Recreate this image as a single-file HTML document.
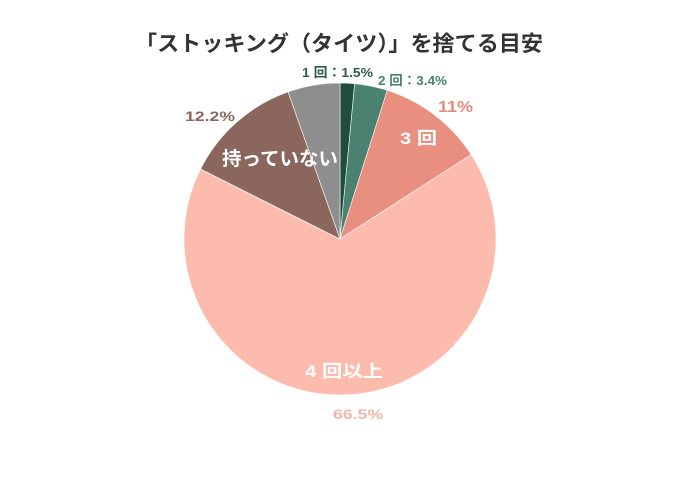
<!DOCTYPE html>
<html>
<head>
<meta charset="utf-8">
<style>
  html, body { margin: 0; padding: 0; background: #ffffff; }
  body { width: 680px; height: 480px; overflow: hidden; }
  svg { display: block; }
  text { font-family: "Liberation Sans", "Noto Sans CJK JP", sans-serif; font-weight: bold; }
</style>
</head>
<body>
<svg width="680" height="480" viewBox="0 0 680 480" xmlns="http://www.w3.org/2000/svg">
  <rect width="680" height="480" fill="#ffffff"/>

  <!-- Title -->
  <text x="135" y="51" font-size="21.5" fill="#333333" textLength="408" lengthAdjust="spacingAndGlyphs">「ストッキング（タイツ）」を捨てる目安</text>

  <!-- Pie slices: center (340,239), r=156 -->
  <g stroke="#ffffff" stroke-width="0.6" stroke-linejoin="round">
    <!-- 1回 1.5% -->
    <path d="M340,239 L340,83 A156,156 0 0 1 354.68,83.69 Z" fill="#1f4d40"/>
    <!-- 2回 3.4% -->
    <path d="M340,239 L354.68,83.69 A156,156 0 0 1 387.27,90.34 Z" fill="#4a8171"/>
    <!-- 3回 11% -->
    <path d="M340,239 L387.27,90.34 A156,156 0 0 1 471.19,154.58 Z" fill="#e88f80"/>
    <!-- 4回以上 66.5% -->
    <path d="M340,239 L471.19,154.58 A156,156 0 1 1 200.56,169.05 Z" fill="#fdbbae"/>
    <!-- 持っていない 12.2% -->
    <path d="M340,239 L200.56,169.05 A156,156 0 0 1 288.08,91.90 Z" fill="#8b665c"/>
    <!-- remainder 5.4% -->
    <path d="M340,239 L288.08,91.90 A156,156 0 0 1 340,83 Z" fill="#8e8e8e"/>
  </g>

  <!-- Outside labels -->
  <text x="302" y="77" font-size="13" fill="#2d5a4c" textLength="71" lengthAdjust="spacingAndGlyphs">1 回：1.5%</text>
  <text x="378" y="85" font-size="13" fill="#4a8070" textLength="69" lengthAdjust="spacingAndGlyphs">2 回：3.4%</text>
  <text x="438" y="112" font-size="16" fill="#e38d7e" textLength="35" lengthAdjust="spacingAndGlyphs">11%</text>
  <text x="185" y="121" font-size="14" fill="#8b675e" textLength="50" lengthAdjust="spacingAndGlyphs">12.2%</text>
  <text x="333" y="419" font-size="14" fill="#f2b6ab" textLength="50" lengthAdjust="spacingAndGlyphs">66.5%</text>

  <!-- Inside labels -->
  <text x="222" y="165" font-size="19" fill="#ffffff" textLength="116" lengthAdjust="spacingAndGlyphs">持っていない</text>
  <text x="400" y="144" font-size="17" fill="#ffffff" textLength="37" lengthAdjust="spacingAndGlyphs">3 回</text>
  <text x="305" y="377" font-size="17" fill="#ffffff" textLength="78" lengthAdjust="spacingAndGlyphs">4 回以上</text>
</svg>
</body>
</html>
